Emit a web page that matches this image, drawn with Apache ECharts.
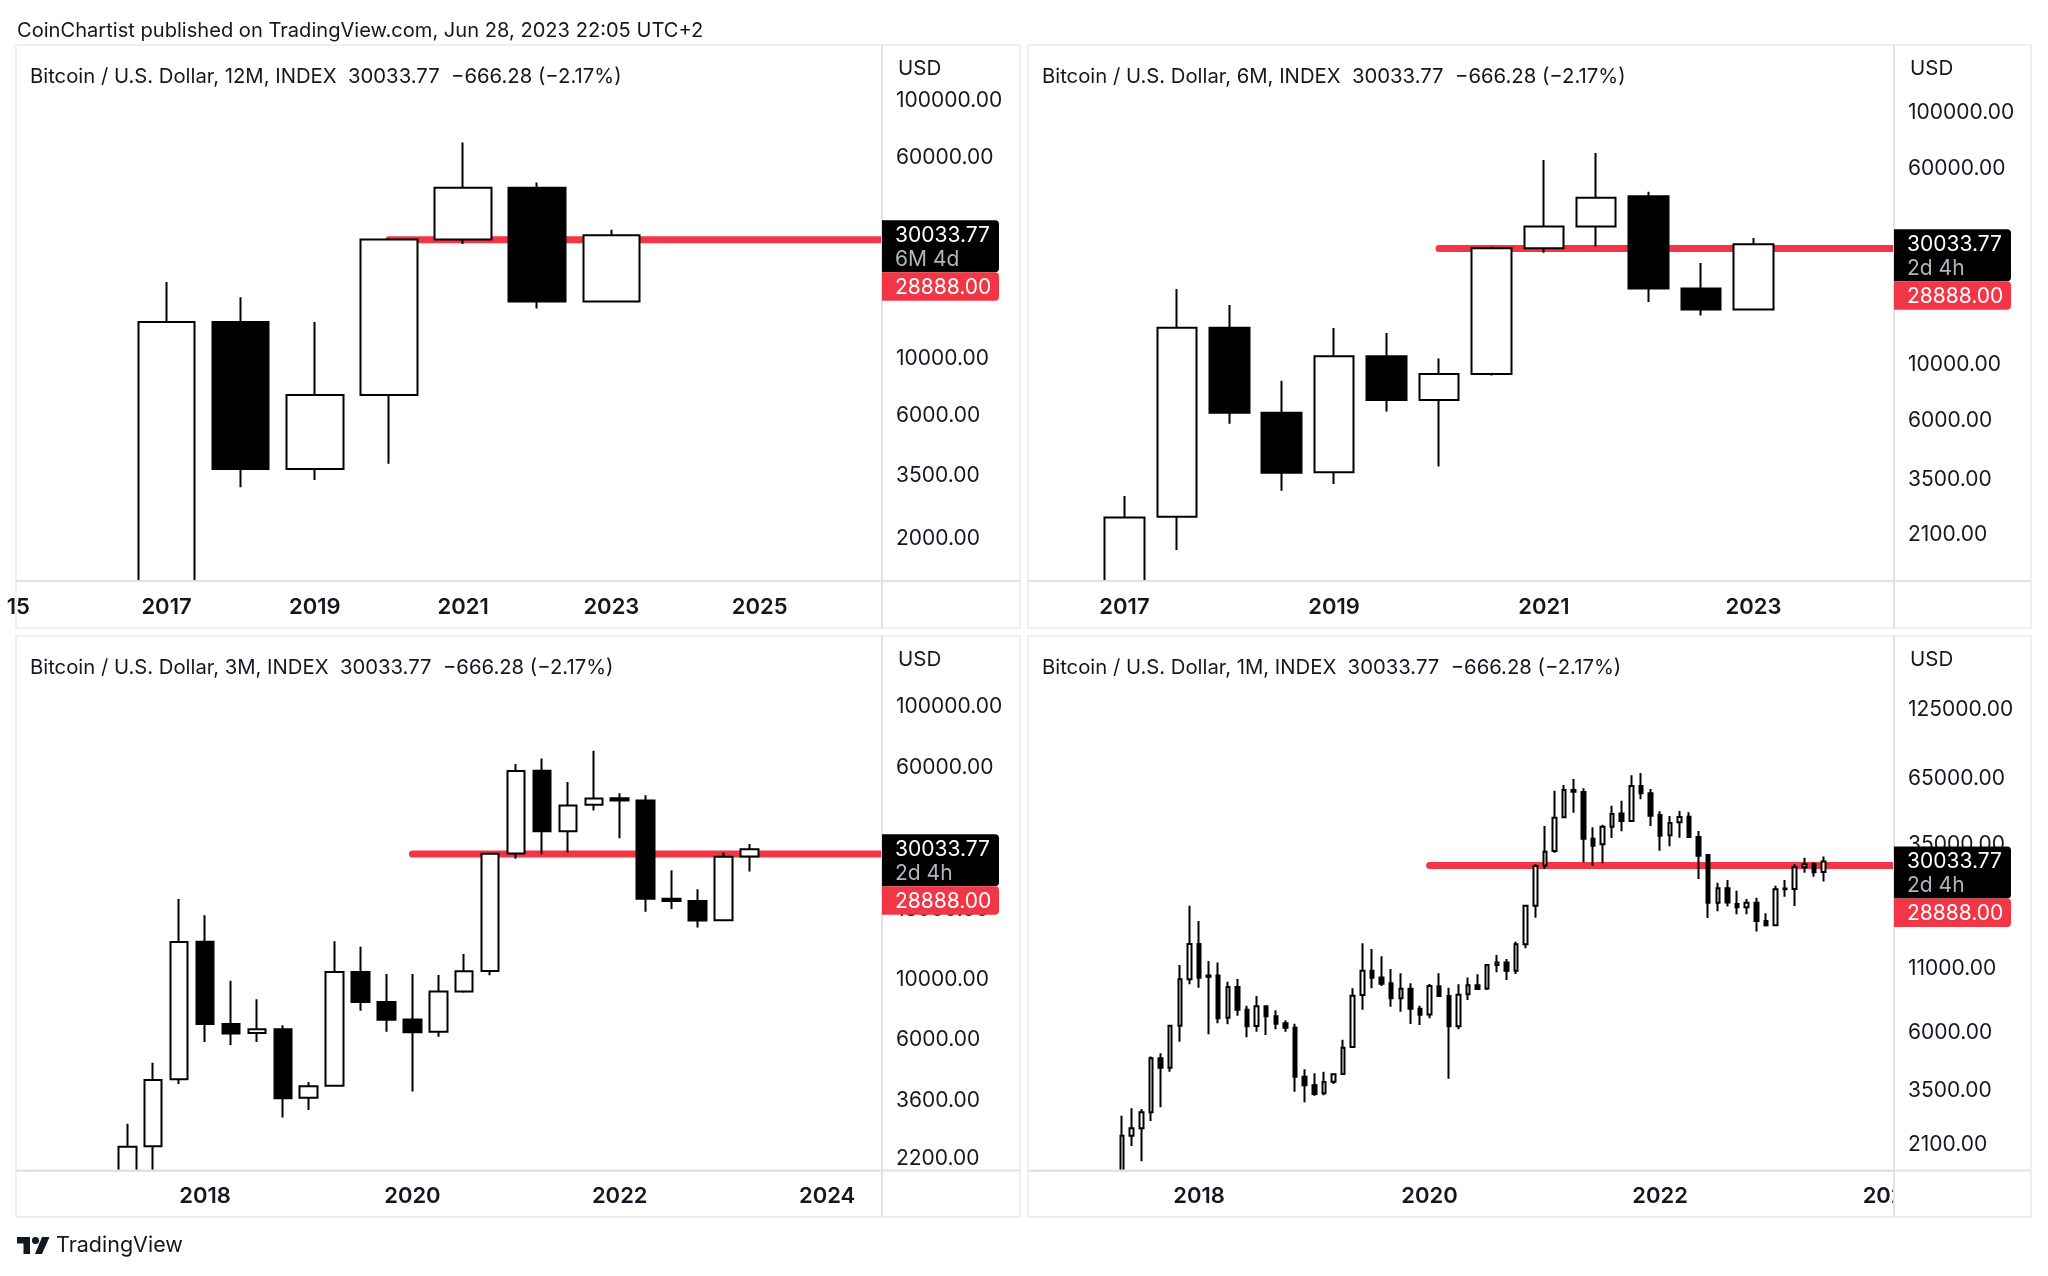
<!DOCTYPE html>
<html>
<head>
<meta charset="utf-8">
<title>Bitcoin / U.S. Dollar</title>
<style>
    html, body { margin: 0; padding: 0; background: #fff; }
    #chart { width: 2048px; height: 1276px; }
</style>
<script src="https://cdn.jsdelivr.net/npm/echarts@6/dist/echarts.min.js"></script>
</head>
<body>
<div id="chart"></div>
<script>

// Chart data
// ------------------------------

var lastPrice = 30033.77;
var linePrice = 28888;
var lineStart = 2020;

// 12M
var periods12M = ['2017-01', '2018-01', '2019-01', '2020-01', '2021-01', '2022-01', '2023-01'];
var opens12M = [960, 13850, 3720, 7210, 28920, 45950, 16620];
var closes12M = [13850, 3720, 7210, 28920, 45950, 16620, 30033.77];
var lows12M = [800, 3162, 3370, 3903, 27800, 15610, 16500];
var highs12M = [19790, 17277, 13850, 29300, 68950, 48230, 31560];
var priceTicks12M = [100000, 60000, 10000, 6000, 3500, 2000];
var yearTicks12M = [2015, 2017, 2019, 2021, 2023, 2025];

// 6M
var periods6M = ['2017-01', '2017-07', '2018-01', '2018-07', '2019-01', '2019-07', '2020-01', '2020-07', '2021-01', '2021-07', '2022-01', '2022-07', '2023-01'];
var opens6M = [960, 2486, 14000, 6437, 3730, 10790, 7228, 9177, 28970, 35320, 46560, 20020, 16550];
var closes6M = [2466, 14000, 6437, 3718, 10780, 7228, 9177, 28970, 35320, 46000, 20020, 16550, 30033.77];
var lows6M = [800, 1832, 5820, 3155, 3350, 6512, 3936, 9043, 27800, 29420, 17710, 15650, 16500];
var highs6M = [3002, 19950, 17240, 8614, 13960, 13330, 10575, 29400, 64870, 69180, 48500, 25330, 31790];
var priceTicks6M = [100000, 60000, 10000, 6000, 3500, 2100];
var yearTicks6M = [2017, 2019, 2021, 2023];

// 3M
var periods3M = ['2017-04', '2017-07', '2017-10', '2018-01', '2018-04', '2018-07', '2018-10', '2019-01', '2019-04', '2019-07', '2019-10', '2020-01', '2020-04', '2020-07', '2020-10', '2021-01', '2021-04', '2021-07', '2021-10', '2022-01', '2022-04', '2022-07', '2022-10', '2023-01', '2023-04'];
var opens3M = [1080, 2440, 4303, 13760, 6864, 6358, 6561, 3681, 4070, 10650, 8257, 7130, 6425, 9038, 10750, 28980, 58400, 35030, 43790, 46240, 45350, 19790, 19390, 16500, 28250];
var closes3M = [2431, 4273, 13730, 6864, 6336, 6561, 3667, 4057, 10650, 8257, 7107, 6403, 9038, 10720, 28930, 58260, 35030, 43480, 46130, 45350, 19790, 19390, 16460, 28220, 30033.77];
var lows3M = [1060, 1830, 4129, 5890, 5750, 5890, 3113, 3315, 4070, 7674, 6425, 3878, 6160, 8945, 10350, 27750, 28830, 29230, 41710, 33020, 17710, 18140, 15510, 16450, 24900];
var highs3M = [2955, 4948, 19720, 17220, 9895, 8461, 6794, 4200, 13820, 13170, 10460, 10460, 10390, 12410, 29200, 61820, 64680, 53030, 69100, 48280, 47450, 25160, 21440, 29230, 31450];
var priceTicks3M = [100000, 60000, 18000, 10000, 6000, 3600, 2200];
var yearTicks3M = [2018, 2020, 2022, 2024];

// 1M
var periods1M = [
    '2017-05', '2017-06', '2017-07', '2017-08', '2017-09', '2017-10', '2017-11', '2017-12',
    '2018-01', '2018-02', '2018-03', '2018-04', '2018-05', '2018-06', '2018-07', '2018-08', '2018-09', '2018-10', '2018-11', '2018-12',
    '2019-01', '2019-02', '2019-03', '2019-04', '2019-05', '2019-06', '2019-07', '2019-08', '2019-09', '2019-10', '2019-11', '2019-12',
    '2020-01', '2020-02', '2020-03', '2020-04', '2020-05', '2020-06', '2020-07', '2020-08', '2020-09', '2020-10', '2020-11', '2020-12',
    '2021-01', '2021-02', '2021-03', '2021-04', '2021-05', '2021-06', '2021-07', '2021-08', '2021-09', '2021-10', '2021-11', '2021-12',
    '2022-01', '2022-02', '2022-03', '2022-04', '2022-05', '2022-06', '2022-07', '2022-08', '2022-09', '2022-10', '2022-11', '2022-12',
    '2023-01', '2023-02', '2023-03', '2023-04', '2023-05', '2023-06'
];
var opens1M = [
    1350, 2292, 2456, 2853, 4737, 4339, 6434, 9938,
    13850, 10190, 10290, 6925, 9247, 7476, 6410, 7715, 7021, 6577, 6310, 3987,
    3677, 3410, 3805, 4089, 5268, 8578, 10780, 10120, 9571, 8315, 9107, 7548,
    7150, 9306, 8501, 6395, 8632, 9396, 9110, 11380, 11650, 10780, 13800, 19840,
    28900, 33100, 45450, 58720, 57700, 37190, 35280, 41630, 47100, 43900, 60950, 56930,
    46400, 38400, 43370, 45700, 37790, 31910, 20370, 23340, 20150, 19530, 20400, 17180,
    16500, 23130, 23200, 28450, 29350, 27200
];
var closes1M = [
    2292, 2456, 2853, 4737, 4339, 6434, 9938, 13850,
    10090, 10290, 6893, 9247, 7476, 6395, 7715, 7021, 6558, 6310, 3987, 3677,
    3390, 3793, 4076, 5235, 8525, 10780, 10090, 9543, 8315, 9107, 7548, 7133,
    9337, 8501, 6395, 8606, 9396, 9076, 11370, 11650, 10780, 13800, 19840, 28790,
    32930, 45310, 58720, 57800, 37190, 34830, 41630, 46880, 43900, 60950, 56930, 46170,
    38270, 43100, 45600, 37790, 31720, 20370, 23340, 20420, 19530, 20400, 17180, 16500,
    23130, 23280, 28420, 29240, 27120, 30033.77
];
var lows1M = [
    1320, 2081, 1802, 2630, 2990, 4179, 5538, 9484,
    9192, 5933, 6577, 6515, 7069, 5768, 6083, 5895, 6218, 6083, 3464, 3134,
    3337, 3347, 3723, 4050, 5268, 7476, 9134, 9335, 7691, 7338, 6536, 6473,
    6893, 8501, 3912, 6218, 8187, 8991, 8991, 10610, 9876, 10450, 13300, 17730,
    27990, 32620, 45450, 47480, 29790, 28880, 29510, 37430, 39850, 43800, 53800, 41900,
    33230, 34620, 37550, 37790, 25480, 17680, 18810, 19660, 18290, 18290, 15550, 16300,
    16500, 21590, 19780, 27040, 26050, 24860
];
var highs1M = [
    2765, 2962, 2945, 4812, 4964, 6470, 11370, 19840,
    17180, 11800, 11650, 9723, 9970, 7762, 8501, 7762, 7430, 6766, 6558, 4271,
    4115, 4179, 4115, 5643, 9134, 13930, 13210, 12330, 10950, 10515, 9571, 7762,
    9513, 10515, 9192, 9484, 10120, 10416, 11480, 12490, 12030, 14150, 19900, 29300,
    41900, 58350, 61530, 65120, 59650, 41370, 42430, 50700, 53130, 67400, 68900, 59280,
    48070, 46030, 48220, 47620, 39980, 32200, 24620, 25240, 22840, 21120, 21390, 18460,
    23930, 25240, 29300, 31130, 29830, 31430
];
var priceTicks1M = [125000, 65000, 35000, 11000, 6000, 3500, 2100];
var yearTicks1M = [2018, 2020, 2022, 2024];


// Panels
// ------------------------------

var FONT = 'Inter, "Noto Sans", sans-serif';
var TEXT_COLOR = '#131722';
var BORDER_COLOR = '#e0e2e7';
var FRAME_COLOR = '#eff0f4';
var RED = '#f23645';

// Paint order: candles < masks < time labels < price column < price labels < tags
var Z_MASK = 3, Z_TIME = 4, Z_COLUMN = 5, Z_PRICE = 6, Z_TEXT = 7, Z_TAG = 8;

var panels = [
    {
        interval: '12M', countdown: '6M 4d',
        periods: periods12M, opens: opens12M, closes: closes12M, lows: lows12M, highs: highs12M,
        priceTicks: priceTicks12M, yearTicks: yearTicks12M,
        left: 16, right: 1020, plotRight: 882, top: 45, plotBottom: 581, bottom: 628, maskBottom: 650,
        xMin: 2014.97, xMax: 2026.65, yMin: 1367, yMax: 164700, barWidth: 57
    },
    {
        interval: '6M', countdown: '2d 4h',
        periods: periods6M, opens: opens6M, closes: closes6M, lows: lows6M, highs: highs6M,
        priceTicks: priceTicks6M, yearTicks: yearTicks6M,
        left: 1028, right: 2031, plotRight: 1894, top: 45, plotBottom: 581, bottom: 628, maskBottom: 650,
        xMin: 2016.08, xMax: 2024.34, yMin: 1381, yMax: 185800, barWidth: 40
    },
    {
        interval: '3M', countdown: '2d 4h',
        periods: periods3M, opens: opens3M, closes: closes3M, lows: lows3M, highs: highs3M,
        priceTicks: priceTicks3M, yearTicks: yearTicks3M,
        left: 16, right: 1020, plotRight: 882, top: 636, plotBottom: 1170.5, bottom: 1217, maskBottom: 1276,
        xMin: 2016.176, xMax: 2024.53, yMin: 1989, yMax: 182300, barWidth: 18
    },
    {
        interval: '1M', countdown: '2d 4h',
        periods: periods1M, opens: opens1M, closes: closes1M, lows: lows1M, highs: highs1M,
        priceTicks: priceTicks1M, yearTicks: yearTicks1M,
        left: 1028, right: 2031, plotRight: 1894, top: 636, plotBottom: 1170.5, bottom: 1217, maskBottom: 1276,
        xMin: 2016.517, xMax: 2024.028, yMin: 1653, yMax: 249100, barWidth: 4
    }
];

// '2018-04' -> 2018.25
var periodToYear = function(period) {
    var parts = period.split('-');
    return +parts[0] + (parts[1] - 1) / 12;
};


// Chart config
// ------------------------------

var chart = echarts.init(document.getElementById('chart'), null, { renderer: 'canvas' });

var grids = [], xAxes = [], yAxes = [], series = [];

panels.forEach(function(panel, i) {

    grids.push({
        left: panel.left,
        top: panel.top,
        width: panel.plotRight - panel.left,
        height: panel.plotBottom - panel.top
    });

    // Time axis
    xAxes.push({
        type: 'value',
        gridIndex: i,
        min: panel.xMin,
        max: panel.xMax,
        z: Z_TIME,
        splitLine: { show: false },
        axisTick: { show: false },
        axisLine: { onZero: false, lineStyle: { color: BORDER_COLOR, width: 2 } },
        axisLabel: {
            customValues: panel.yearTicks,
            hideOverlap: false,
            margin: 15,
            color: TEXT_COLOR,
            fontFamily: FONT,
            fontWeight: 600,
            fontSize: 22,
            // the first 12M label is cut by the pane edge
            formatter: function(value) {
                return value === 2015 ? '15' : String(value);
            }
        }
    });

    // Price axis
    yAxes.push({
        type: 'log',
        logBase: 10,
        gridIndex: i,
        position: 'right',
        min: panel.yMin,
        max: panel.yMax,
        z: Z_PRICE,
        splitLine: { show: false },
        minorTick: { show: false },
        axisTick: { show: false },
        axisLine: { show: true, onZero: false, lineStyle: { color: BORDER_COLOR, width: 2 } },
        axisLabel: {
            customValues: panel.priceTicks,
            hideOverlap: false,
            margin: 14,
            padding: [6, 0, 0, 0],
            color: TEXT_COLOR,
            fontFamily: FONT,
            fontSize: 21,
            formatter: function(value) {
                return value.toFixed(2);
            }
        }
    });

    // Horizontal level, drawn under the candles
    series.push({
        type: 'line',
        xAxisIndex: i,
        yAxisIndex: i,
        z: 1,
        silent: true,
        showSymbol: false,
        animation: false,
        lineStyle: { color: RED, width: 7, cap: 'round' },
        data: [[lineStart, linePrice], [panel.xMax, linePrice]]
    });

    series.push({
        type: 'candlestick',
        xAxisIndex: i,
        yAxisIndex: i,
        z: 2,
        animation: false,
        barWidth: panel.barWidth,
        itemStyle: {
            color: '#ffffff',
            color0: '#000000',
            borderColor: '#000000',
            borderColor0: '#000000',
            borderWidth: 2
        },
        encode: { x: 0, y: [1, 2, 3, 4] },
        data: panel.periods.map(function(period, k) {
            return [periodToYear(period), panel.opens[k], panel.closes[k], panel.lows[k], panel.highs[k]];
        })
    });
});

chart.setOption({
    backgroundColor: '#ffffff',
    animation: false,
    textStyle: { fontFamily: FONT },
    grid: grids,
    xAxis: xAxes,
    yAxis: yAxes,
    series: series
});


// Frames, legends and price tags
// ------------------------------

var label = function(text, x, y, size, color, z) {
    return {
        type: 'text',
        z: z || Z_TEXT,
        silent: true,
        style: {
            text: text,
            x: x,
            y: y,
            fill: color,
            font: '400 ' + size + 'px ' + FONT,
            textAlign: 'left',
            textVerticalAlign: 'middle'
        }
    };
};

var box = function(x, y, width, height, z, style, r) {
    return {
        type: 'rect',
        z: z,
        silent: true,
        shape: { x: x, y: y, width: width, height: height, r: r || 0 },
        style: style
    };
};

var rule = function(x1, y1, x2, y2) {
    return {
        type: 'line',
        z: Z_TEXT,
        silent: true,
        shape: { x1: x1, y1: y1, x2: x2, y2: y2 },
        style: { stroke: BORDER_COLOR, lineWidth: 2 }
    };
};

var elements = [];

panels.forEach(function(panel, i) {

    // Candlesticks are only dropped when fully outside the grid, so cut them off here
    elements.push(box(panel.left - 4, panel.plotBottom + 1, panel.right - panel.left + 8, panel.maskBottom - panel.plotBottom - 1, Z_MASK, { fill: '#ffffff' }));

    // Price column hides the time labels that run into it
    elements.push(box(panel.plotRight + 1, panel.top, panel.right - panel.plotRight - 1, panel.bottom - panel.top, Z_COLUMN, { fill: '#ffffff' }));

    // Outer frame
    elements.push(box(panel.left, panel.top, panel.right - panel.left, panel.bottom - panel.top, Z_TEXT, { fill: 'none', stroke: FRAME_COLOR, lineWidth: 2 }));
    elements.push(rule(panel.plotRight, panel.top, panel.plotRight, panel.bottom));
    elements.push(rule(panel.left, panel.plotBottom, panel.right, panel.plotBottom));

    // Legend and currency
    elements.push(label('Bitcoin / U.S. Dollar, ' + panel.interval + ', INDEX  30033.77  \u2212666.28 (\u22122.17%)', panel.left + 14, panel.top + 31.5, 20.3, TEXT_COLOR));
    elements.push(label('USD', panel.plotRight + 16, panel.top + 24, 20.5, TEXT_COLOR));

    // Tags hang from the last price
    var lastY = chart.convertToPixel({ yAxisIndex: i }, lastPrice);
    var tagTop = lastY - 15;
    var tagWidth = 117;

    elements.push(box(panel.plotRight, tagTop, tagWidth, 52, Z_TAG, { fill: '#000000' }, [0, 4, 4, 0]));
    elements.push(label(lastPrice.toFixed(2), panel.plotRight + 13, lastY, 21, '#ffffff', Z_TAG + 1));
    elements.push(label(panel.countdown, panel.plotRight + 13, lastY + 24, 21, '#b2b5be', Z_TAG + 1));

    elements.push(box(panel.plotRight, tagTop + 52, tagWidth, 28.5, Z_TAG, { fill: RED }, [0, 4, 4, 0]));
    elements.push(label(linePrice.toFixed(2), panel.plotRight + 13, tagTop + 67, 21, '#ffffff', Z_TAG + 1));
});

// Page header and logo
elements.push(label('CoinChartist published on TradingView.com, Jun 28, 2023 22:05 UTC+2', 17, 31, 20.1, TEXT_COLOR));
elements.push({
    type: 'polygon',
    z: Z_TEXT,
    silent: true,
    shape: { points: [[17, 1237], [30, 1237], [30, 1254], [23.5, 1254], [23.5, 1243.5], [17, 1243.5]] },
    style: { fill: TEXT_COLOR }
});
elements.push({
    type: 'polygon',
    z: Z_TEXT,
    silent: true,
    shape: { points: [[42, 1237], [49.5, 1237], [42, 1254], [35, 1254]] },
    style: { fill: TEXT_COLOR }
});
elements.push({
    type: 'circle',
    z: Z_TEXT,
    silent: true,
    shape: { cx: 35.5, cy: 1240.5, r: 3.6 },
    style: { fill: TEXT_COLOR }
});
elements.push(label('TradingView', 56, 1246, 21.5, TEXT_COLOR));

chart.setOption({ graphic: { elements: elements } });

</script>
</body>
</html>
